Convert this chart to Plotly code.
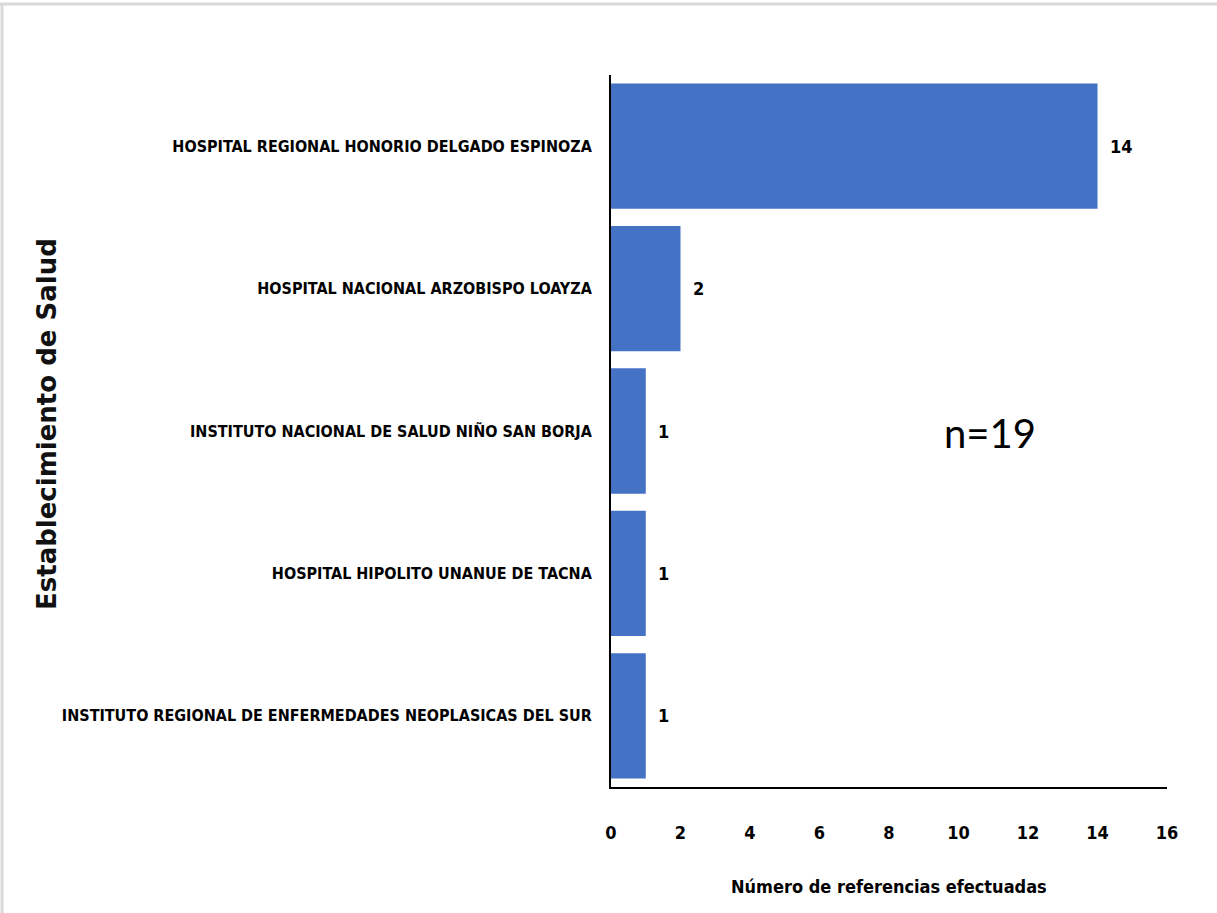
import plotly.graph_objects as go

categories = [
    "HOSPITAL REGIONAL HONORIO DELGADO ESPINOZA",
    "HOSPITAL NACIONAL ARZOBISPO LOAYZA",
    "INSTITUTO NACIONAL DE SALUD NIÑO SAN BORJA",
    "HOSPITAL HIPOLITO UNANUE DE TACNA",
    "INSTITUTO REGIONAL DE ENFERMEDADES NEOPLASICAS DEL SUR",
]
values = [14, 2, 1, 1, 1]
x_ticks = [0, 2, 4, 6, 8, 10, 12, 14, 16]
note_text = "n=19"
x_title = "Número de referencias efectuadas"
y_title = "Establecimiento de Salud"

COND = "DejaVu Sans Condensed, DejaVu Sans, sans-serif"
W, H = 1217, 913
L, R, T, B = 611, 50, 75, 126
pw, ph = W - L - R, H - T - B

fig = go.Figure(go.Bar(
    y=categories, x=values, orientation="h",
    marker=dict(color="#4472C4", line=dict(width=0)),
    hoverinfo="skip",
))

for c, v in zip(categories, values):
    fig.add_annotation(x=v, y=c, xref="x", yref="y", text=f"<b>{v}</b>",
                       showarrow=False, xanchor="left", xshift=10,
                       font=dict(family=COND, size=18, color="black"))

fig.add_annotation(x=(990 - L) / pw, y=(H - B - 433) / ph, xref="paper", yref="paper",
                   text=note_text, showarrow=False, xanchor="center", yanchor="middle",
                   font=dict(family="Lato, Open Sans, sans-serif", size=40, color="black"))

fig.add_annotation(x=(47 - L) / pw, y=(H - B - 424) / ph, xref="paper", yref="paper",
                   text=f"<b>{y_title}</b>", showarrow=False, textangle=-90,
                   xanchor="center", yanchor="middle",
                   font=dict(family="DejaVu Sans, sans-serif", size=26, color="#111111"))

fig.add_annotation(x=0.5, y=(H - B - 886) / ph, xref="paper", yref="paper",
                   text=f"<b>{x_title}</b>", showarrow=False,
                   xanchor="center", yanchor="middle",
                   font=dict(family=COND, size=18, color="black"))

# picture frame
fig.add_shape(type="line", xref="paper", yref="paper",
              x0=(0 - L) / pw, x1=(W - L) / pw,
              y0=(H - B - 4) / ph, y1=(H - B - 4) / ph,
              line=dict(color="#d9d9d9", width=3))
fig.add_shape(type="line", xref="paper", yref="paper",
              x0=(2 - L) / pw, x1=(2 - L) / pw,
              y0=(H - B - 4) / ph, y1=(H - B - H) / ph,
              line=dict(color="#d9d9d9", width=3))

fig.update_layout(
    width=W, height=H,
    margin=dict(l=L, r=R, t=T, b=B, autoexpand=False),
    paper_bgcolor="white", plot_bgcolor="white",
    bargap=0.12, showlegend=False,
    xaxis=dict(range=[0, 16], tickvals=x_ticks,
               ticktext=[f"<b>{t}</b>" for t in x_ticks],
               showgrid=False, zeroline=False,
               showline=True, linecolor="black", linewidth=2, ticks="",
               ticklabelstandoff=28,
               tickfont=dict(family=COND, size=18, color="black")),
    yaxis=dict(autorange="reversed", showgrid=False, zeroline=False,
               showline=True, linecolor="black", linewidth=2, ticks="",
               ticklabelstandoff=14,
               tickvals=categories,
               ticktext=[f"<b>{c}</b>" for c in categories],
               tickfont=dict(family=COND, size=16, color="black")),
)

fig.write_html("out.html", config={"displayModeBar": False},
               post_script="document.body.style.margin='0';")
